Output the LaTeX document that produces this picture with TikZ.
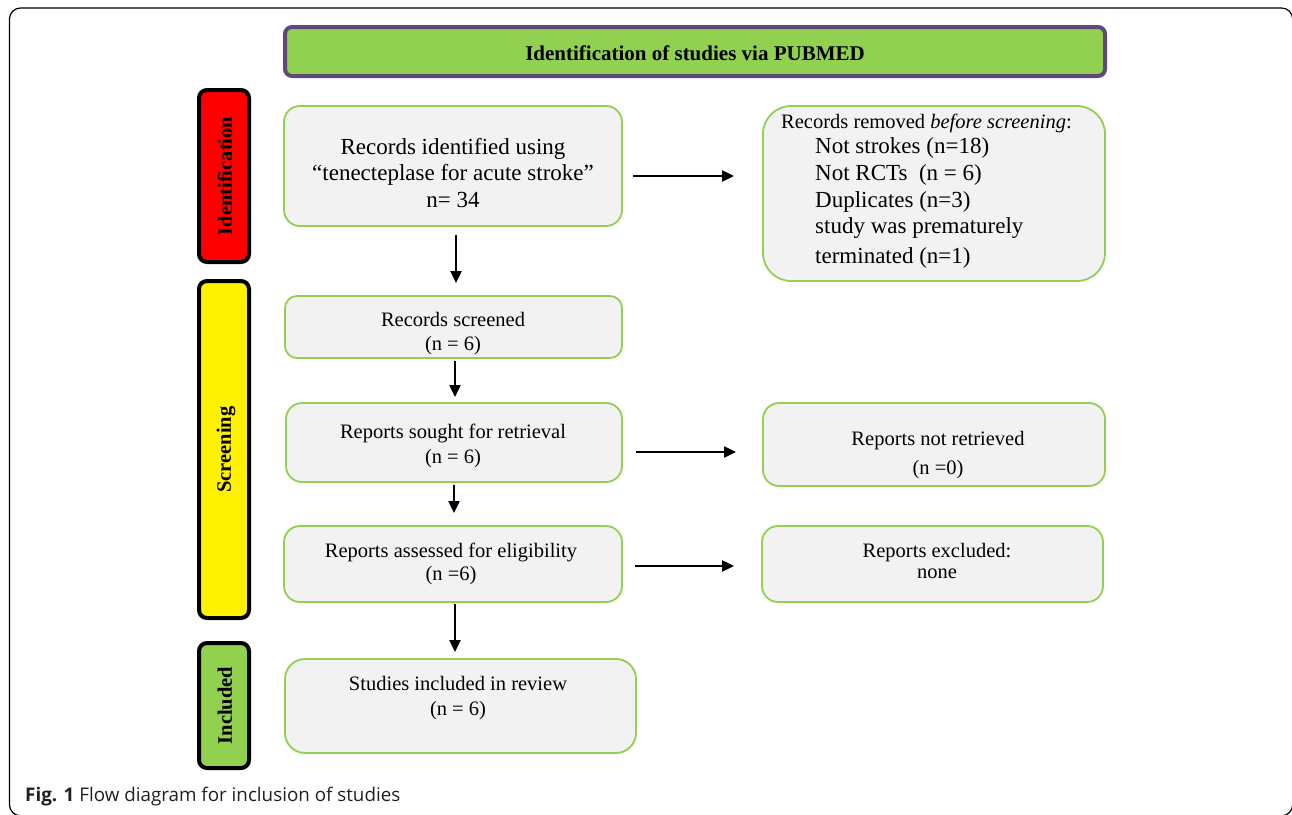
\documentclass[tikz,border=0pt]{standalone}
\usepackage{fontspec}
\setmainfont{Liberation Serif}
\newfontfamily\capfont{Open Sans}
\usetikzlibrary{arrows.meta}
\definecolor{lgreen}{HTML}{92D050}
\definecolor{purp}{HTML}{5F497A}
\definecolor{boxfill}{HTML}{F2F2F2}
\definecolor{capgray}{HTML}{231F20}
\tikzset{
  gbox/.style={draw=lgreen, line width=1.8pt, fill=boxfill, rounded corners=16pt, inner sep=0pt, rectangle},
  side/.style={draw=black, line width=4pt, rounded corners=8pt, inner sep=0pt, rectangle, minimum width=50pt},
  sidetext/.style={rotate=90, font=\fontsize{20.5}{24}\selectfont\bfseries, inner sep=0pt},
  tsmall/.style={anchor=base, inner sep=0pt, font=\fontsize{20.5}{24}\selectfont},
  tbig/.style={anchor=base, inner sep=0pt, font=\fontsize{23}{27}\selectfont},
  tbigl/.style={anchor=base west, inner sep=0pt, font=\fontsize{23}{27}\selectfont},
  arr/.style={line width=2pt, -{Triangle[length=12pt,width=11pt]}},
}
\begin{document}
\begin{tikzpicture}[x=1pt,y=-1pt]
\useasboundingbox (0,0) rectangle (1292,814);
% outer frame (partly cut off at the right and bottom)
\draw[line width=1.2pt, rounded corners=11pt] (9.5,8) rectangle (1292.6,815.8);
% title
\node[draw=purp, line width=4pt, fill=lgreen, rounded corners=7pt, inner sep=0pt,
  minimum width=820pt, minimum height=49pt] (title) at (695,51.5) {};
\node[anchor=base, inner sep=0pt, font=\fontsize{21}{24}\selectfont\bfseries] (titletext) at (695,60) {Identification of studies via PUBMED};
% side labels
\node[side, fill=red, minimum height=172pt] (idl) at (224,176) {};
\node[sidetext] (idlt) at (225,176) {Identification};
\node[side, fill=yellow, minimum height=337pt] (scl) at (224,449.5) {};
\node[sidetext] (sclt) at (226,449.5) {Screening};
\node[side, fill=lgreen, minimum height=125pt] (inl) at (224,705.5) {};
\node[sidetext] (inlt) at (225,705.5) {Included};
% boxes
\node[gbox, minimum width=338pt, minimum height=120pt] (rid) at (453,166) {};
\node[gbox, rounded corners=28pt, minimum width=342pt, minimum height=175pt] (rem) at (934,193.5) {};
\node[gbox, rounded corners=12pt, minimum width=337pt, minimum height=62pt] (scr) at (453.5,327) {};
\node[gbox, minimum width=336pt, minimum height=79pt] (sou) at (454,442.5) {};
\node[gbox, minimum width=338pt, minimum height=76pt] (ass) at (453,564) {};
\node[gbox, rounded corners=20pt, minimum width=351pt, minimum height=94pt] (inc) at (460.5,706) {};
\node[gbox, minimum width=342pt, minimum height=83pt] (nre) at (934,444.5) {};
\node[gbox, minimum width=341pt, minimum height=76pt] (exc) at (932.5,564) {};
% texts
\node[tbig] (rid1) at (453,154) {Records identified using};
\node[tbig] (rid2) at (453,180) {“tenecteplase for acute stroke”};
\node[tbig] (rid3) at (453,207) {n= 34};
\node[anchor=base west, inner sep=0pt, font=\fontsize{20.5}{24}\selectfont] (rem1) at (781,128) {Records removed \textit{before screening}:};
\node[tbigl] (rem2) at (815,153) {Not strokes (n=18)};
\node[tbigl] (rem3) at (815,180) {Not RCTs\ \ (n = 6)};
\node[tbigl] (rem4) at (815,207) {Duplicates (n=3)};
\node[tbigl] (rem5) at (815,233) {study was prematurely};
\node[tbigl] (rem6) at (815,263) {terminated (n=1)};
\node[tsmall] (scr1) at (453,326) {Records screened};
\node[tsmall] (scr2) at (453,350) {(n = 6)};
\node[tsmall] (sou1) at (453,438) {Reports sought for retrieval};
\node[tsmall] (sou2) at (453,463) {(n = 6)};
\node[tsmall] (ass1) at (451,557) {Reports assessed for eligibility};
\node[tsmall] (ass2) at (451,580) {(n =6)};
\node[tsmall] (inc1) at (458,690) {Studies included in review};
\node[tsmall] (inc2) at (458,715) {(n = 6)};
\node[tsmall] (nre1) at (938,445) {Reports not retrieved};
\node[tsmall] (nre2) at (938,474) {(n =0)};
\node[tsmall] (exc1) at (937,557) {Reports excluded:};
\node[tsmall] (exc2) at (937,578) {none};
% arrows
\draw[arr] ([xshift=3pt,yshift=-8pt]rid.south) -- ([xshift=2.5pt,yshift=12pt]scr.north);
\draw[arr] ([xshift=10pt,yshift=-10pt]rid.east) -- ([xshift=-28pt,yshift=17.5pt]rem.west);
\draw[arr] ([xshift=1.5pt,yshift=-2pt]scr.south) -- ([xshift=1pt,yshift=5pt]sou.north);
\draw[arr] ([yshift=-2pt]sou.south) -- ([xshift=1pt,yshift=12pt]ass.north);
\draw[arr] ([xshift=13pt,yshift=-9.5pt]sou.east) -- ([xshift=-26pt,yshift=-7.5pt]nre.west);
\draw[arr] ([xshift=12pt,yshift=-2pt]ass.east) -- ([xshift=-27pt,yshift=-2pt]exc.west);
\draw[arr] ([xshift=2pt,yshift=-1pt]ass.south) -- ([xshift=-5.5pt,yshift=6pt]inc.north);
% caption
\node[anchor=base west, inner sep=0pt, text=capgray, font=\capfont\fontsize{18.8}{22}\selectfont] (cap) at (25,801) {\textbf{Fig. 1} Flow diagram for inclusion of studies};
\end{tikzpicture}
\end{document}
